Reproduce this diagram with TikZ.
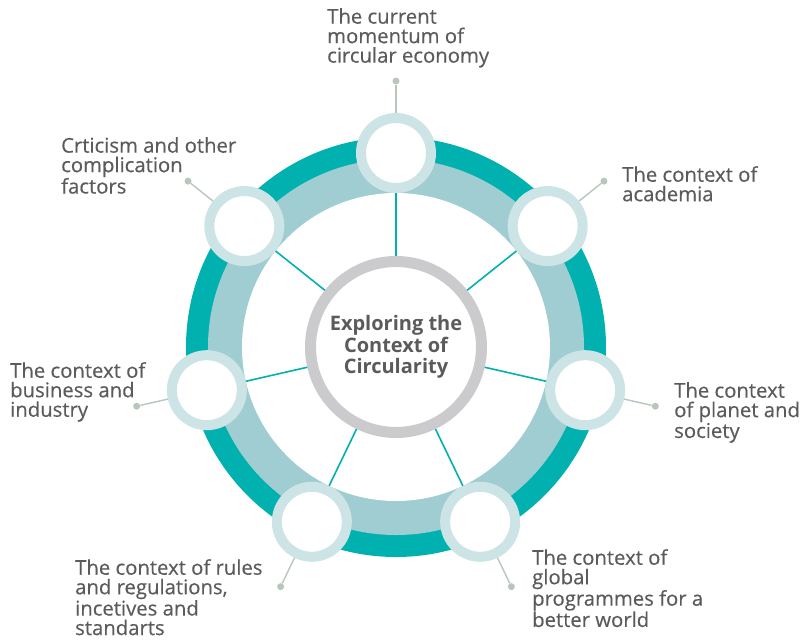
\documentclass[tikz,border=0pt]{standalone}
\usepackage{fontspec}
\setmainfont{Open Sans}
\newfontfamily\capfont{Open Sans}[UprightFeatures={FakeBold=0.4}]
\definecolor{ringdark}{HTML}{00B1B0}
\definecolor{ringlight}{HTML}{9FCDD1}
\definecolor{spotring}{HTML}{CCE4E5}
\definecolor{hubring}{HTML}{CBCBCD}
\definecolor{leadcol}{HTML}{B7C7BB}
\definecolor{txt}{HTML}{5B5B5B}
\begin{document}
\begin{tikzpicture}[x=1pt,y=1pt,
    hub/.style={circle,draw=hubring,line width=11pt,fill=white,minimum size=171pt,inner sep=0pt,align=center,text=txt,font=\bfseries\fontsize{20}{21.5}\selectfont},
    spot/.style={circle,draw=spotring,line width=10pt,fill=white,minimum size=70pt,inner sep=0pt},
    dot/.style={circle,fill=leadcol,minimum size=7pt,inner sep=0pt},
    spoke/.style={ringdark,line width=1.6pt},
    leader/.style={leadcol,line width=1.4pt},
    caption/.style={anchor=north west,align=left,inner sep=0pt,text=txt,font=\capfont\fontsize{20.3}{19.5}\selectfont}]
  \useasboundingbox (-396,-294) rectangle (409,347);
  % rings
  \fill[ringdark] (0,0) circle (210);
  \fill[ringlight] (0,0) circle (188);
  \fill[white] (0,0) circle (154);
  \node[hub] (hub) at (0,0) {Exploring the\\Context of\\Circularity};

  \foreach \i/\a in {1/90,2/38.57,3/-12.86,4/-64.29,5/-115.71,6/-167.14,7/141.43}{
    \node[spot] (s\i) at (\a:194) {};
    \node[dot] (d\i) at (\a:266) {};
    \draw[spoke] (hub) -- (s\i);
    \draw[leader] (s\i) -- (d\i);
  }

  \node[caption] (t1) at (-69,339) {The current\\momentum of\\circular economy};
  \node[caption] (t2) at (226,181) {The context of\\academia};
  \node[caption] (t3) at (278,-35) {The context\\of planet and\\society};
  \node[caption] (t4) at (136,-202) {The context of\\global\\programmes for a\\better world};
  \node[caption] (t5) at (-321,-212) {The context of rules\\and regulations,\\incetives and\\standarts};
  \node[caption] (t6) at (-386,-15) {The context of\\business and\\industry};
  \node[caption] (t7) at (-335,210) {Crticism and other\\complication\\factors};
\end{tikzpicture}
\end{document}
